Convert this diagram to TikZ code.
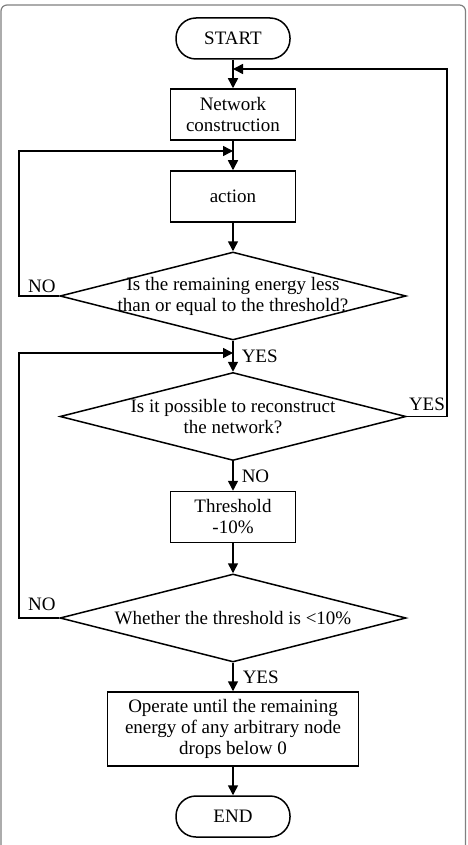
\documentclass[tikz,border=0pt]{standalone}
\usepackage{fontspec}
\setmainfont{Liberation Serif}
\usetikzlibrary{shapes.geometric,arrows.meta}

\begin{document}
\begin{tikzpicture}[x=1pt,y=-1pt,line width=1.5pt,font=\fontsize{19}{21}\selectfont]
	% Styles
	\tikzset{
		flow/.style={-{Triangle[length=10pt,width=10pt]}},
		terminal/.style={draw, rounded corners=20pt, minimum width=114pt, minimum height=41pt},
		process/.style={draw, align=center, minimum width=125pt, minimum height=51pt},
		decision/.style={draw, diamond, minimum width=346pt, minimum height=88pt, inner sep=0pt},
		tag/.style={inner sep=3pt}
	}
	\useasboundingbox (0,0) rectangle (467,845);
	
	% Draw the frame
	\draw[gray, line width=1.2pt, rounded corners=6pt] (1,880) -- (1,5) -- (465.5,5) -- (465.5,880);
	
	% Nodes
	\node[terminal] (start) at (233,38.5) {START};
	\node[process] (net) at (233,114.5) {Network\\construction};
	\node[process] (act) at (233,196.5) {action};
	\node[decision, label={[align=center]center:{Is the remaining energy less\\than or equal to the threshold?}}] (energy) at (233,296) {};
	\node[decision, label={[align=center]center:{Is it possible to reconstruct\\the network?}}] (rebuild) at (233,416.5) {};
	\node[process] (thr) at (233,517) {Threshold\\-10\%};
	\node[decision, label={center:{Whether the threshold is <10\%}}] (check) at (233,618) {};
	\node[process, minimum width=251pt, minimum height=74pt] (run) at (233,729) {Operate until the remaining\\energy of any arbitrary node\\drops below 0};
	\node[terminal] (stop) at (233,816.5) {END};
	
	% Junctions on the main line
	\coordinate (top) at (233,69);
	\coordinate (mid) at (233,151);
	\coordinate (low) at (233,353);
	\coordinate (lft) at (19,0);
	\coordinate (rgt) at (447,0);
	
	% Main flow
	\draw[flow] (start) -- (net);
	\draw[flow] (net) -- (act);
	\draw[flow] (act) -- (energy);
	\draw[flow] (energy) -- node[right=5pt, tag] {YES} (rebuild);
	\draw[flow] (rebuild) -- node[right=5pt, tag] {NO} (thr);
	\draw[flow] (thr) -- (check);
	\draw[flow] (check) -- node[right=6pt, tag] {YES} (run);
	\draw[flow] (run) -- (stop);
	
	% Loops back
	\draw[flow] (energy.west) node[anchor=south east, tag] {NO} -- (lft |- energy.west) |- (mid);
	\draw[flow] (check.west) node[anchor=south east, tag, yshift=4pt] {NO} -- (lft |- check.west) |- (low);
	\draw[flow] (rebuild.east) node[anchor=south west, inner sep=1.5pt, yshift=4pt] {YES} -- (rgt |- rebuild.east) |- (top);
\end{tikzpicture}
\end{document}
